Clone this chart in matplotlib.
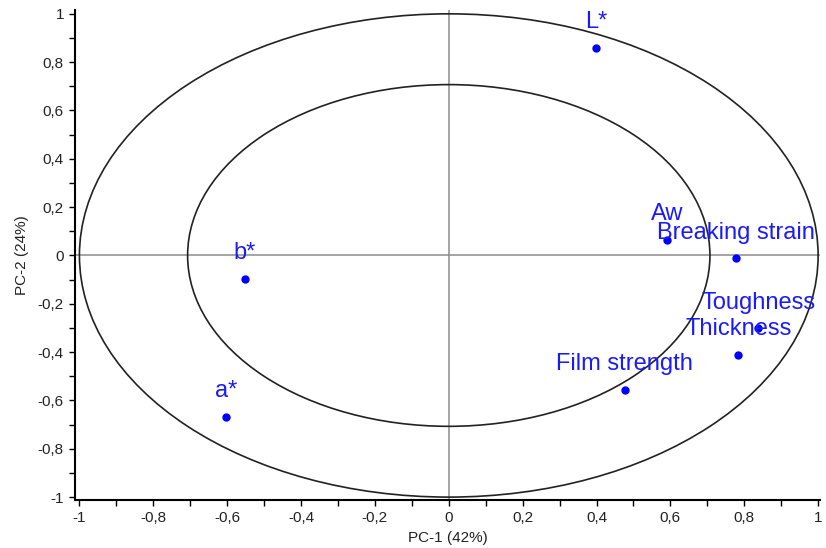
import numpy as np
import matplotlib
matplotlib.use("Agg")
import matplotlib.pyplot as plt
from matplotlib.patches import Ellipse
from matplotlib.ticker import MultipleLocator, FuncFormatter

plt.rcParams['font.family'] = ['Liberation Sans', 'DejaVu Sans']

# Data
variables = ["L*", "Aw", "Breaking strain", "Toughness", "Thickness",
             "Film strength", "b*", "a*"]
pc1 = [0.398, 0.592, 0.777, 0.838, 0.784, 0.476, -0.552, -0.602]
pc2 = [0.858, 0.064, -0.012, -0.301, -0.412, -0.557, -0.097, -0.667]
radii = [1.0, np.sqrt(0.5)]
xlabel = "PC-1 (42%)"
ylabel = "PC-2 (24%)"

fig = plt.figure(figsize=(8.26, 5.48), dpi=100)
ax = fig.add_axes([0.0908, 0.0876, 0.9927 - 0.0908, 0.9818 - 0.0876])

for r in radii:
    ax.add_patch(Ellipse((0, 0), 2 * r, 2 * r, fill=False, edgecolor='#222222',
                         linewidth=1.2, zorder=2))

ax.axhline(0, color='#8c8c8c', linewidth=1.1, zorder=1)
ax.axvline(0, color='#8c8c8c', linewidth=1.1, zorder=1)

ax.plot(pc1, pc2, 'o', color='#0000ff', markersize=5, zorder=3, linestyle='none')
for name, x, y in zip(variables, pc1, pc2):
    ax.annotate(name, (x, y), xytext=(0, 18.5), textcoords='offset points',
                ha='center', va='center', color='#1a1aff', fontsize=17, zorder=4)

ax.set_xlim(-1.012, 1.005)
ax.set_ylim(-1.012, 1.016)

for s in ['top', 'right']:
    ax.spines[s].set_visible(False)
for s in ['left', 'bottom']:
    ax.spines[s].set_linewidth(1.5)
    ax.spines[s].set_color('black')

ax.xaxis.set_major_locator(MultipleLocator(0.2))
ax.yaxis.set_major_locator(MultipleLocator(0.2))
ax.xaxis.set_minor_locator(MultipleLocator(0.1))
ax.yaxis.set_minor_locator(MultipleLocator(0.1))

def fmt(v, pos):
    if abs(v) < 1e-9:
        return "0"
    s = ("%.1f" % v).rstrip('0').rstrip('.')
    return s.replace('.', ',')

ax.xaxis.set_major_formatter(FuncFormatter(fmt))
ax.yaxis.set_major_formatter(FuncFormatter(fmt))
ax.tick_params(which='both', direction='out', length=4.5, width=1, color='black',
               labelsize=11, labelcolor='#222222', pad=3.5)

ax.set_xlabel(xlabel, fontsize=11, color='#222222', labelpad=4)
ax.set_ylabel(ylabel, fontsize=11, color='#222222', labelpad=6)

fig.savefig("out.png", dpi=100)
